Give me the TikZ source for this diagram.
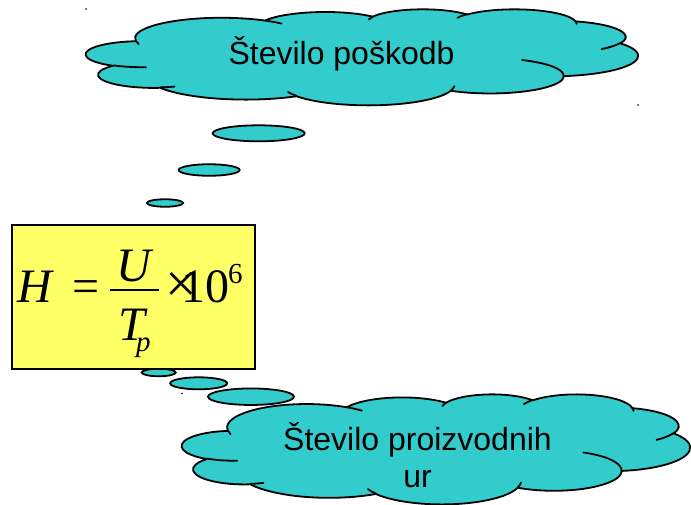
\documentclass[tikz,border=0pt]{standalone}
\usepackage{fontspec}
\setmainfont{Liberation Sans}
\newfontfamily\fmlfont{Liberation Serif}
\usetikzlibrary{shapes.geometric}
\definecolor{cloudcyan}{HTML}{33CCCC}
\definecolor{boxyellow}{HTML}{FFFF66}
% one arcTo of a DrawingML path: wR hR stAng swAng (degrees, clockwise on screen)
\newcommand\cldcalc[4]{%
  \pgfmathsetmacro\cts{atan2((#1)*sin(-(#3)), (#2)*cos(-(#3)))}%
  \pgfmathsetmacro\cte{atan2((#1)*sin(-(#3)-(#4)), (#2)*cos(-(#3)-(#4)))}%
  \pgfmathsetmacro\cdl{-Mod(\cts-\cte,360)}%
  \pgfmathsetmacro\crx{(#1)*\cldsx}%
  \pgfmathsetmacro\cry{(#2)*\cldsy}%
}
\newcommand\cldarc[4]{\pgfextra{\cldcalc{#1}{#2}{#3}{#4}} arc[start angle=\cts, delta angle=\cdl, x radius=\crx pt, y radius=\cry pt]}
% cloud in box left #1, top #2, width #3, height #4
\newcommand\cloudshape[4]{%
  \pgfmathsetmacro\cldsx{#3/100}%
  \pgfmathsetmacro\cldsy{#4/100}%
  \begin{scope}[shift={(#1,#2)}, x=\cldsx pt, y=-\cldsy pt]
    \path[cloudbody] (9.0278,33.2639)
      \cldarc{15.6319}{21.2731}{-190.48748}{123.78053}
      \cldarc{12.3449}{16.8218}{-144.10238}{89.94523}
      \cldarc{10.1042}{13.7616}{-145.80792}{99.72302}
      \cldarc{11.2431}{15.2662}{-130.98607}{117.24173}
      \cldarc{12.3449}{16.8356}{-78.70888}{109.02692}
      \cldarc{15.6829}{21.3426}{-46.26725}{130.269}
      \cldarc{13.3912}{18.2106}{0.62502}{114.03333}
      \cldarc{15.6296}{21.3310}{22.4516}{115.17255}
      \cldarc{17.8704}{24.4051}{66.24263}{75.71102}
      \cldarc{10.0926}{13.6991}{-274.94208}{146.73557}
      \cldarc{10.0579}{13.7616}{-246.8285}{152.51885}
      -- cycle;
    \draw[crease] (10.8634,60.5949) \cldarc{10.0579}{13.7616}{86.742}{26.4295};
    \draw[crease] (16.0370,80.7847) \cldarc{10.0926}{13.6991}{73.6105}{11.4475};
    \draw[crease] (38.1435,90.4861) \cldarc{15.6296}{21.3310}{137.6242}{14.0811};
    \draw[crease] (66.7292,80.4421) \cldarc{15.6296}{21.3310}{6.4533}{15.9984};
    \draw[crease] (79.0023,53.1343) \cldarc{13.3912}{18.2106}{-70.2924}{70.9174};
    \draw[crease] (96.7546,35.5417) \cldarc{12.3449}{16.8356}{30.3180}{27.7515};
    \draw[crease] (88.7130,12.5602) \cldarc{11.2431}{15.2662}{-13.7443}{14.8589};
    \draw[crease] (67.3102,9.1481) \cldarc{11.2431}{15.2662}{-149.1815}{18.1954};
    \draw[crease] (51.2523,10.9259) \cldarc{10.1042}{13.7616}{-163.4943}{17.6864};
    \draw[crease] (32.4074,12.0185) \cldarc{15.6319}{21.2731}{-66.7070}{12.3194};
    \draw[crease] (9.5532,36.5486) \cldarc{15.6319}{21.2731}{157.6544}{11.8582};
  \end{scope}}
\tikzset{
  cloudbody/.style={draw=black, fill=cloudcyan, line width=1.8pt, line join=round},
  crease/.style={draw=black, line width=1.8pt, line cap=round},
  bubble/.style={ellipse, draw=black, fill=cloudcyan, line width=1.8pt, inner sep=0pt},
  cornerdot/.style={circle, fill=black, inner sep=0pt, minimum size=1.6pt},
  cloudtext/.style={anchor=base, inner sep=0pt, font=\fontsize{32}{37}\selectfont},
  fml/.style={inner sep=0pt, font=\fmlfont\fontsize{48}{48}\selectfont},
  fmlsmall/.style={inner sep=0pt, font=\fmlfont\fontsize{29}{29}\selectfont},
}
\begin{document}
\begin{tikzpicture}[x=1pt, y=-1pt]
\useasboundingbox (0,0) rectangle (691,504);
% top cloud
\cloudshape{86}{9}{552}{96}
\node[cloudtext] (toptext) at (341.5,64) {Število poškodb};
\node[cornerdot] (dotA) at (86,9) {};
\node[cornerdot] (dotB) at (638,105) {};
% tail bubbles of top cloud
\node[bubble, minimum width=92pt, minimum height=16pt] (tb1) at (258.7,133.3) {};
\node[bubble, minimum width=61pt, minimum height=11.5pt] (tb2) at (209.2,170) {};
\node[bubble, minimum width=36pt, minimum height=7.5pt] (tb3) at (165,203) {};
% bottom cloud
\cloudshape{182}{394}{508}{110}
\node[cloudtext] (bottext1) at (417.5,450) {Število proizvodnih};
\node[cloudtext] (bottext2) at (417.5,487) {ur};
% bottom tail bubbles
\node[bubble, minimum width=34pt, minimum height=7.5pt] (bb1) at (158.7,372.5) {};
\node[bubble, minimum width=57pt, minimum height=12pt] (bb2) at (198.7,383.3) {};
\node[bubble, minimum width=86pt, minimum height=16.5pt] (bb3) at (251,396.7) {};
\node[cornerdot] (dotC) at (182,393.5) {};
% formula box
\node[draw=black, fill=boxyellow, line width=1.5pt, minimum width=243pt, minimum height=144pt, inner sep=0pt] (box) at (133.5,297) {};
\node[fml, anchor=base west] (fH) at (17,302) {\itshape H};
\node[fml, anchor=base] (feq) at (86,302) {=};
\node[fml, anchor=base] (fU) at (134,281) {\itshape U};
\coordinate (barL) at (110,290);
\coordinate (barR) at (159,290);
\draw[line width=1.3pt] (barL) -- (barR);
\node[fml, anchor=base] (fT) at (132,340) {\itshape T};
\node[fmlsmall, anchor=base west] (fp) at (136,351) {\itshape p};
\node[fml, anchor=base, font=\fmlfont\fontsize{56}{56}\selectfont] (ftimes) at (181,302) {×};
\node[fml, anchor=base west] (f10) at (181,302) {10};
\node[fmlsmall, anchor=base west] (f6) at (228,283) {6};
\end{tikzpicture}
\end{document}
